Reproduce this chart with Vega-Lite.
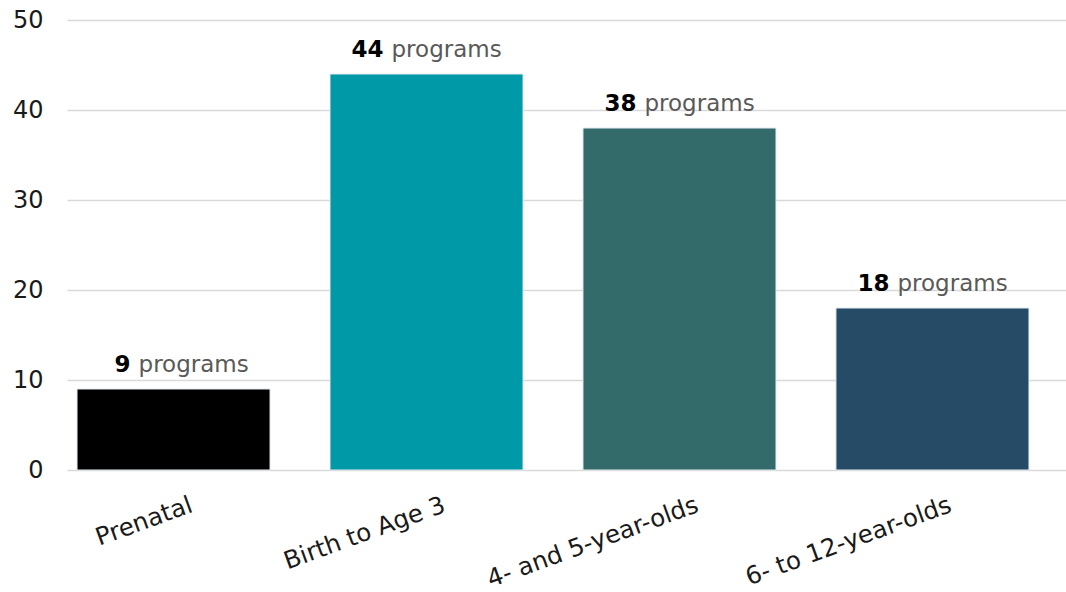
{
  "$schema": "https://vega.github.io/schema/vega-lite/v6.json",
  "width": 999,
  "height": 450,
  "padding": {"left": 67, "top": 20, "right": 0, "bottom": 122},
  "autosize": {"type": "none"},
  "background": "white",
  "config": {
    "view": {"stroke": null},
    "font": "DejaVu Sans"
  },
  "data": {
    "values": [
      {"group": "Prenatal", "programs": 9},
      {"group": "Birth to Age 3", "programs": 44},
      {"group": "4- and 5-year-olds", "programs": 38},
      {"group": "6- to 12-year-olds", "programs": 18}
    ]
  },
  "encoding": {
    "x": {
      "field": "group",
      "type": "nominal",
      "sort": null,
      "scale": {"paddingInner": 0.237, "paddingOuter": 0.093, "align": 0.213},
      "axis": {
        "title": null,
        "domain": false,
        "ticks": false,
        "labelAngle": -20,
        "labelAlign": "right",
        "labelBaseline": "top",
        "labelFontSize": 24.5,
        "labelColor": "#1a1a1a",
        "labelPadding": 23,
        "labelOffset": 14,
        "labelLimit": 400
      }
    },
    "y": {
      "field": "programs",
      "type": "quantitative",
      "scale": {"domain": [0, 50]},
      "axis": {
        "title": null,
        "domain": false,
        "ticks": false,
        "values": [0, 10, 20, 30, 40, 50],
        "labelFontSize": 24,
        "labelColor": "#1a1a1a",
        "labelPadding": 24,
        "gridColor": "#d9d9d9",
        "gridWidth": 1.3
      }
    }
  },
  "layer": [
    {
      "mark": {"type": "bar", "stroke": "#e3ebef", "strokeWidth": 1},
      "encoding": {
        "color": {
          "field": "group",
          "type": "nominal",
          "sort": null,
          "legend": null,
          "scale": {
            "domain": ["Prenatal", "Birth to Age 3", "4- and 5-year-olds", "6- to 12-year-olds"],
            "range": ["#000000", "#0099A8", "#336B6A", "#264B66"]
          }
        }
      }
    },
    {
      "mark": {"type": "text", "align": "right", "baseline": "alphabetic", "dx": -43, "dy": -17, "fontSize": 23, "fontWeight": "bold", "color": "#000000"},
      "encoding": {"text": {"field": "programs", "type": "quantitative"}}
    },
    {
      "mark": {"type": "text", "align": "left", "baseline": "alphabetic", "dx": -35, "dy": -17, "fontSize": 23, "color": "#595959", "text": "programs"},
      "encoding": {}
    }
  ]
}
